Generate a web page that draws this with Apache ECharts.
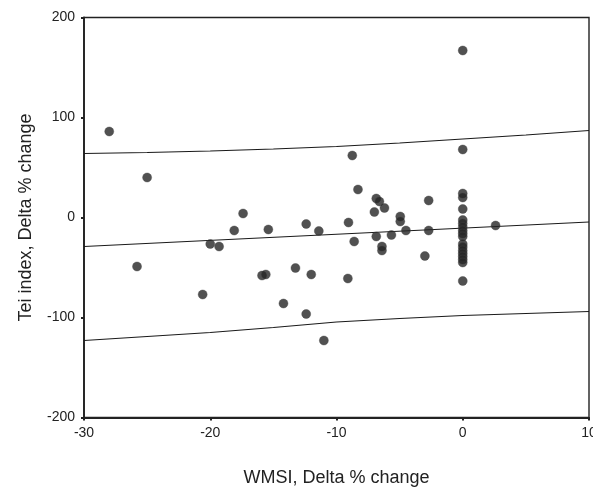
<!DOCTYPE html>
<html><head><meta charset="utf-8">
<script src="https://cdn.jsdelivr.net/npm/echarts@6/dist/echarts.min.js"></script>
<style>html,body{margin:0;padding:0;background:#fff}#c{width:593px;height:487px}</style>
</head><body><div id="c"></div>
<script>
const xTicks = [-30, -20, -10, 0, 10];
const yTicks = [-200, -100, 0, 100, 200];
const pointsX = [-28, -25, -17.4, -18.1, -15.4, -12.4, -11.4, -20.0, -19.3, -25.8, -15.9, -15.6, -13.25, -12.0, -20.6, -14.2, -12.4, -11.0,
  -8.75, -8.3, -6.85, -6.6, -6.2, -7.0, -2.7, -9.05, -8.6, -6.85, -5.65, -4.95, -4.95, -4.5, -2.7, -6.4, -6.4, -3.0, 2.6, -9.1,
  0, 0, 0, 0, 0, 0, 0, 0, 0, 0, 0, 0, 0, 0, 0, 0, 0, 0, 0, 0, 0, 0, 0];
const pointsY = [86, 40, 4, -13, -12, -6.5, -13.5, -26.5, -29, -49, -58, -57, -50.5, -57, -77, -86, -96.5, -123,
  62, 28, 19, 16, 9.5, 5.5, 17, -5, -24, -19, -17.5, 1, -4, -13, -13, -29, -33, -38.5, -8, -61,
  167, 68, 24, 20, 8.5, -2.5, -6, -9.5, -13, -16, -19, -26.5, -29.5, -33, -36, -39, -42, -45, -63.5];
const fitX = [-30, 10];
const fitY = [-29, -4.5];
const bandX = [-30, -25, -20, -15, -10, -5, 0, 5, 10];
const upperY = [64, 65, 66.5, 68.5, 71, 74.5, 78.5, 82.5, 87];
const lowerY = [-123, -119, -115, -110, -104.5, -101, -98, -96, -94];

const pts = pointsX.map((x, i) => [x, pointsY[i]]);
const fit = fitX.map((x, i) => [x, fitY[i]]);
const up = bandX.map((x, i) => [x, upperY[i]]);
const lo = bandX.map((x, i) => [x, lowerY[i]]);
const font = 'Liberation Sans, Arial, sans-serif';
const lineSer = (d) => ({type: 'line', data: d, symbol: 'none', silent: true, lineStyle: {color: '#1a1a1a', width: 1.2}, z: 2});
const chart = echarts.init(document.getElementById('c'));
chart.setOption({
  animation: false,
  grid: {left: 84, right: 4, top: 17.5, bottom: 69.5, outerBoundsMode: 'none', containLabel: false,
         show: true, borderColor: '#222', borderWidth: 1.4},
  xAxis: {
    type: 'value', min: xTicks[0], max: xTicks[xTicks.length - 1], interval: 10,
    name: 'WMSI, Delta % change', nameLocation: 'middle', nameGap: 52,
    nameTextStyle: {fontFamily: font, fontSize: 18, color: '#222'},
    axisLine: {show: true, onZero: false, lineStyle: {color: '#222', width: 1.8}},
    axisTick: {show: true, length: 3, lineStyle: {color: '#222', width: 2}},
    axisLabel: {fontFamily: font, fontSize: 14, color: '#222', margin: 9},
    splitLine: {show: false}
  },
  yAxis: {
    type: 'value', min: yTicks[0], max: yTicks[yTicks.length - 1], interval: 100,
    name: 'Tei index, Delta % change', nameLocation: 'middle', nameGap: 49,
    nameTextStyle: {fontFamily: font, fontSize: 18, color: '#222'},
    axisLine: {show: true, onZero: false, lineStyle: {color: '#222', width: 1.8}},
    axisTick: {show: true, length: 3, lineStyle: {color: '#222', width: 2}},
    axisLabel: {fontFamily: font, fontSize: 14, color: '#222', margin: 9},
    splitLine: {show: false}
  },
  series: [
    lineSer(up), lineSer(fit), lineSer(lo),
    {type: 'scatter', data: pts, symbol: 'circle', symbolSize: 9,
     itemStyle: {color: '#262626', borderColor: '#444', borderWidth: 0.5}, z: 3}
  ]
});
</script></body></html>
